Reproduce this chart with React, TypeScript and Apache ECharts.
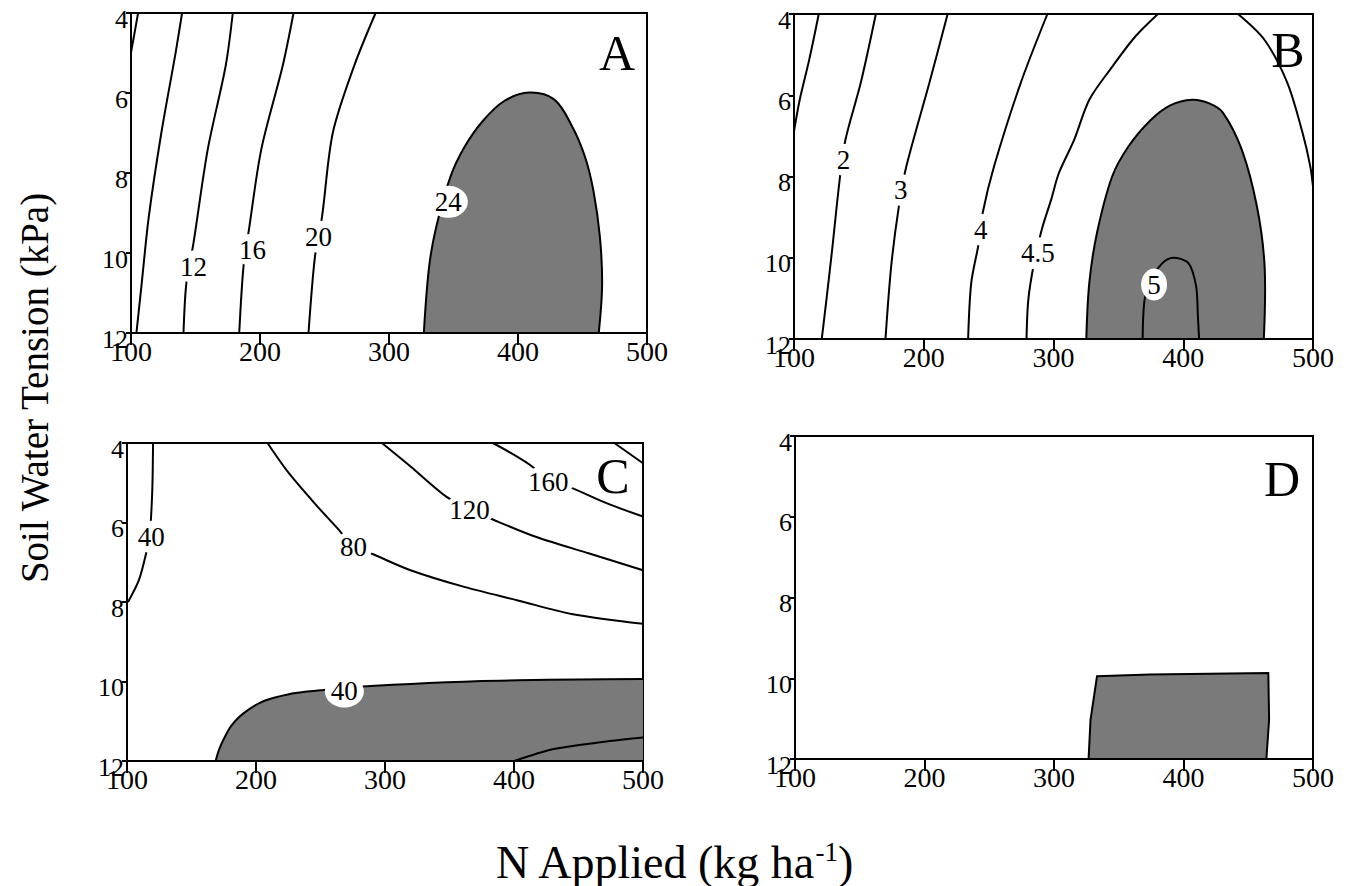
import React, { useEffect, useRef } from 'react';
import * as echarts from 'echarts';

const FONT = "'Liberation Serif', 'Times New Roman', Times, serif";

// Axis ranges
const xRange = [100, 500];
const xStep = 100;
const yRange = [4, 12];
const yStep = 2;

// ---------- Panel A (contours) ----------
const aLineOuter = [[105.5, 4], [102.8, 4.49], [100, 4.99]];
const aLine8 = [[139.6, 4], [134.6, 4.99], [123.5, 7.0], [113.8, 9.09], [108.3, 10.76], [104.2, 12]];
const aLine12 = [[178.9, 4], [173.4, 5.32], [159.5, 7.41], [148.4, 9.76], [142.9, 10.76], [140.7, 12]];
const aLine16 = [[226, 4], [217.6, 5.32], [201, 7.41], [191.4, 9.42], [187.2, 10.34], [183.9, 12]];
const aLine20 = [[289.6, 4], [273, 5.32], [256.4, 7.0], [248.1, 9.09], [242.6, 10.09], [237.6, 12]];
const aRegion24 = [[327, 12], [331.1, 10.34], [336.7, 9.34], [347.8, 8.08], [358.5, 7.35], [372.7, 6.7], [389.3, 6.2], [408.7, 5.99], [428, 6.16], [441.9, 6.83], [452, 7.6], [458.5, 8.45], [463.5, 9.6], [465.2, 10.8], [462.6, 12]];
const aLabels: [number, number, string][] = [[148.4, 10.34, '12'], [194.1, 9.92, '16'], [245.3, 9.59, '20'], [346, 8.72, '24']];

// ---------- Panel B ----------
const bLine1 = [[119.1, 4], [111.7, 5.13], [104.4, 6.11], [100, 6.89]];
const bLine2 = [[163.1, 4], [151.4, 5.7], [139.6, 7.1], [135.2, 8.08], [129.4, 9.8], [125, 11.03], [121.4, 12]];
const bLine3 = [[218.4, 4], [204.3, 5.7], [186.6, 7.75], [180.8, 8.74], [174.9, 10.21], [170.5, 12]];
const bLine4 = [[295.3, 4], [274.7, 5.7], [254.2, 7.75], [245.4, 8.9], [242.4, 9.64], [236.6, 10.62], [234.2, 12]];
const bLine45 = [[380.5, 4], [362.9, 4.56], [345.2, 5.3], [327.6, 6.11], [315.9, 7.1], [304.1, 7.92], [298.2, 8.57], [290.9, 9.31], [285, 10.13], [280.6, 11.03], [279.2, 12]];
const bLine45Right = [[442.2, 4], [462.7, 4.64], [480.3, 5.7], [492, 6.93], [497.9, 7.75], [500, 8.25]];
const bRegion = [[325.3, 12], [327.6, 10.62], [333.5, 9.39], [345.2, 8.0], [358, 7.25], [374.6, 6.62], [390, 6.25], [406.9, 6.11], [420, 6.2], [430.4, 6.42], [445.1, 7.34], [456.8, 8.74], [462.7, 10.21], [462.1, 12]];
const bLine5 = [[368.7, 12], [370.2, 11.03], [375, 10.55], [383.4, 10.15], [392.2, 10.0], [404, 10.13], [409.9, 10.7], [411.3, 11.44], [412.2, 12]];
const bLabels: [number, number, string][] = [[138.2, 7.59, '2'], [182.2, 8.33, '3'], [243.9, 9.31, '4'], [288, 9.89, '4.5'], [377.5, 10.66, '5']];

// ---------- Panel C ----------
const cLine40 = [[120.2, 4], [119.7, 5.09], [118.8, 5.77], [117.5, 6.36], [114.8, 6.78], [109.2, 7.45], [100.8, 8.0]];
const cLine80 = [[208.9, 4], [225.5, 4.76], [247.7, 5.6], [264.4, 6.19], [275.5, 6.61], [289.3, 6.78], [319.8, 7.2], [361.4, 7.62], [403, 7.96], [444.6, 8.3], [500, 8.55]];
const cLine120 = [[297.6, 4], [319.8, 4.59], [347.5, 5.35], [365.6, 5.68], [378, 5.85], [416.8, 6.36], [458.4, 6.78], [500, 7.2]];
const cLine160 = [[383.6, 4], [397.5, 4.25], [414, 4.59], [426.5, 4.97], [441.7, 5.09], [472.2, 5.52], [500, 5.85]];
const cLine200 = [[477.8, 4], [500, 4.51]];
const cBoundary40 = [[168.7, 12], [171.5, 11.7], [175.6, 11.41], [180.5, 11.13], [186.7, 10.9], [194.5, 10.7], [203.3, 10.53], [214, 10.41], [225.5, 10.32], [238, 10.26], [250, 10.22], [270, 10.16], [292.1, 10.11], [320, 10.06], [347.5, 10.02], [375, 9.99], [403, 9.97], [450, 9.95], [500, 9.94]];
const cRegionClose = [[500, 12]];
const cLineInner = [[400.2, 12], [430.7, 11.7], [464, 11.54], [500, 11.41]];
const cLabels: [number, number, string][] = [[118.8, 6.36, '40'], [275.5, 6.61, '80'], [365.6, 5.68, '120'], [426.5, 4.97, '160'], [268.5, 10.25, '40']];

// ---------- Panel D ----------
const dRegion = [[326.7, 12], [328.2, 11.03], [333.2, 9.95], [374, 9.91], [465.5, 9.87], [466.1, 11.03], [464, 12]];

const panelLetters = ['A', 'B', 'C', 'D'];

const GRIDS = [
  { left: 131, top: 13, width: 516, height: 320 },
  { left: 794, top: 14, width: 519, height: 325 },
  { left: 127, top: 443, width: 516, height: 318 },
  { left: 795, top: 436, width: 518, height: 323 },
];
const LETTER_POS = [[617, 53], [1288, 50], [613, 476], [1282, 479]];
const FILL = '#7a7a7a';

function lineSeries(i: number, pts: number[][]) {
  return {
    type: 'line', xAxisIndex: i, yAxisIndex: i, data: pts, showSymbol: false, smooth: 0.3,
    lineStyle: { color: '#000', width: 2 }, z: 3, silent: true,
  };
}

// Filled region: an open (optionally smoothed) polyline whose implicit closing edge runs along the axis.
function regionSeries(i: number, pts: number[][], smooth: number, stroke: boolean) {
  return {
    type: 'custom', xAxisIndex: i, yAxisIndex: i, clip: true, silent: true, z: 2,
    data: pts,
    renderItem: (params: any, api: any) => {
      if (params.dataIndex !== 0) return null;
      return {
        type: 'polyline',
        shape: { points: pts.map((p) => api.coord(p)), smooth },
        style: { fill: FILL, stroke: stroke ? '#000' : 'none', lineWidth: 2 },
      };
    },
  };
}

function labelSeries(i: number, labels: [number, number, string][]) {
  return {
    type: 'scatter', xAxisIndex: i, yAxisIndex: i, z: 5, silent: true,
    symbol: 'circle',
    data: labels.map(([x, y, t]) => ({
      value: [x, y],
      symbolSize: [t.length * 13 + 13, 32],
      label: { formatter: t },
    })),
    itemStyle: { color: '#fff', opacity: 1 },
    label: { show: true, position: 'inside', color: '#000', fontSize: 27, fontFamily: FONT },
  };
}

export default function App() {
  const ref = useRef<HTMLDivElement>(null);
  useEffect(() => {
    if (!ref.current) return;
    const chart = echarts.init(ref.current, undefined, { renderer: 'svg' });
    const series: any[] = [
      regionSeries(0, aRegion24, 0.35, true),
      lineSeries(0, aLineOuter), lineSeries(0, aLine8), lineSeries(0, aLine12), lineSeries(0, aLine16), lineSeries(0, aLine20),
      labelSeries(0, aLabels),
      regionSeries(1, bRegion, 0.35, true),
      lineSeries(1, bLine1), lineSeries(1, bLine2), lineSeries(1, bLine3), lineSeries(1, bLine4), lineSeries(1, bLine45), lineSeries(1, bLine45Right), lineSeries(1, bLine5),
      labelSeries(1, bLabels),
      regionSeries(2, [...cBoundary40, ...cRegionClose], 0, false),
      lineSeries(2, cBoundary40),
      lineSeries(2, cLine40), lineSeries(2, cLine80), lineSeries(2, cLine120), lineSeries(2, cLine160), lineSeries(2, cLine200), lineSeries(2, cLineInner),
      labelSeries(2, cLabels),
      regionSeries(3, dRegion, 0, true),
    ];
    const option: any = {
      animation: false,
      backgroundColor: '#fff',
      grid: GRIDS.map((g) => ({ ...g, show: true, borderColor: '#000', borderWidth: 2, backgroundColor: 'transparent' })),
      xAxis: GRIDS.map((_, i) => ({
        gridIndex: i, type: 'value', min: xRange[0], max: xRange[1], interval: xStep, z: 10,
        axisLine: { show: true, onZero: false, lineStyle: { color: '#000', width: 2 } },
        axisTick: { show: true, inside: false, length: 12, lineStyle: { color: '#000', width: 2 } },
        axisLabel: { color: '#000', fontSize: 28, fontFamily: FONT, margin: 4 },
        splitLine: { show: false },
      })),
      yAxis: GRIDS.map((_, i) => ({
        gridIndex: i, type: 'value', min: yRange[0], max: yRange[1], interval: yStep, inverse: true, z: 10,
        axisLine: { show: true, onZero: false, lineStyle: { color: '#000', width: 2 } },
        axisTick: { show: true, inside: false, length: 5, lineStyle: { color: '#000', width: 2 } },
        axisLabel: { color: '#000', fontSize: 26, fontFamily: FONT, margin: 3, verticalAlign: 'top', lineHeight: 12 },
        splitLine: { show: false },
      })),
      series,
      graphic: [
        ...panelLetters.map((t, i) => ({
          type: 'text', x: LETTER_POS[i][0], y: LETTER_POS[i][1], z: 20,
          style: { text: t, fill: '#000', font: `50px ${FONT}`, align: 'center', verticalAlign: 'middle' },
        })),
        {
          type: 'text', x: 34, y: 388, rotation: Math.PI / 2, z: 20,
          style: { text: 'Soil Water Tension (kPa)', fill: '#000', font: `39px ${FONT}`, align: 'center', verticalAlign: 'middle' },
        },
        {
          type: 'text', x: 674, y: 862, z: 20,
          style: {
            text: '{a|N Applied (kg ha}{s|-1}{a|)}', align: 'center', verticalAlign: 'middle', fill: '#000',
            rich: {
              a: { fontSize: 46, fontFamily: FONT, fill: '#000', lineHeight: 48 },
              s: { fontSize: 27, fontFamily: FONT, fill: '#000', verticalAlign: 'top', lineHeight: 27 },
            },
          },
        },
      ],
    };
    chart.setOption(option);
    return () => chart.dispose();
  }, []);
  return <div ref={ref} style={{ position: 'fixed', left: 0, top: 0, width: 1347, height: 886, background: '#fff' }} />;
}
